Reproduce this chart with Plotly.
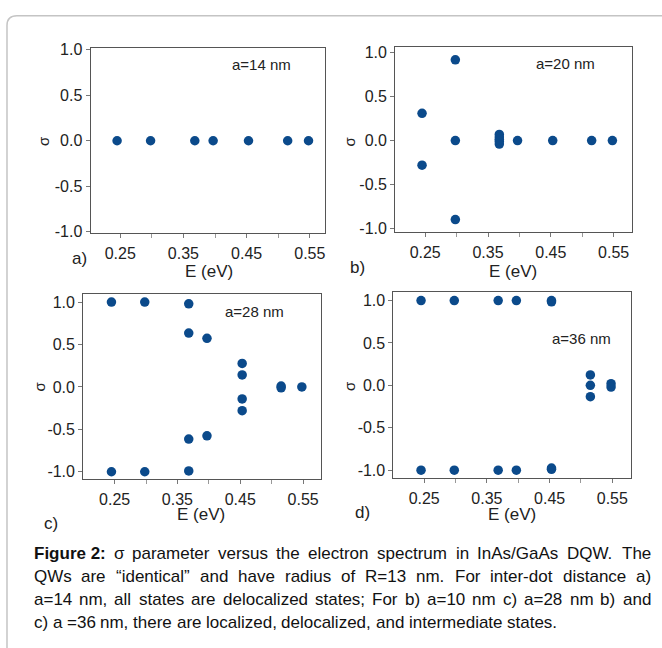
import plotly.graph_objects as go

W, H = 662, 648

# ---------------- data ----------------
E_a = [0.245, 0.298, 0.368, 0.397, 0.453, 0.515, 0.548]
s_a = [0.0, 0.0, 0.0, 0.0, 0.0, 0.0, 0.0]

E_b = [0.245, 0.245, 0.298, 0.298, 0.298, 0.368, 0.368, 0.368, 0.368, 0.368,
       0.397, 0.453, 0.515, 0.548]
s_b = [0.31, -0.28, 0.92, 0.0, -0.90, 0.07, 0.04, 0.015, -0.01, -0.04,
       0.0, 0.0, 0.0, 0.0]

E_c = [0.245, 0.245, 0.298, 0.298, 0.368, 0.368, 0.368, 0.368, 0.397, 0.397,
       0.453, 0.453, 0.453, 0.453, 0.515, 0.515, 0.548]
s_c = [1.0, -1.0, 1.0, -1.0, 0.98, 0.635, -0.615, -0.99, 0.573, -0.577,
       0.277, 0.142, -0.142, -0.28, 0.01, -0.01, 0.0]

E_d = [0.245, 0.245, 0.298, 0.298, 0.368, 0.368, 0.397, 0.397,
       0.453, 0.453, 0.453, 0.453, 0.515, 0.515, 0.515, 0.548, 0.548]
s_d = [1.0, -1.0, 1.0, -1.0, 1.0, -1.0, 1.0, -1.0,
       1.0, 0.985, -0.99, -0.975, 0.123, 0.0, -0.134, 0.02, -0.02]

panel_labels = ["a)", "b)", "c)", "d)"]
distance_labels = ["a=14 nm", "a=20 nm", "a=28 nm", "a=36 nm"]
x_tick_vals = [0.25, 0.35, 0.45, 0.55]
x_tick_text = ["0.25", "0.35", "0.45", "0.55"]
y_tick_vals = [-1.0, -0.5, 0.0, 0.5, 1.0]
y_tick_text = ["-1.0", "-0.5", "0.0", "0.5", "1.0"]
x_title = "E (eV)"
y_title = "σ"

caption_lines = [
    "Figure 2: σ parameter versus the electron spectrum in InAs/GaAs DQW. The",
    "QWs are “identical” and have radius of R=13 nm. For inter-dot distance a)",
    "a=14 nm, all states are delocalized states; For b) a=10 nm c) a=28 nm b) and",
    "c) a =36 nm, there are localized, delocalized, and intermediate states.",
]

# ---------------- layout geometry (pixels) ----------------
def px(x):
    return x / W

def py(y):
    return 1 - y / H

# box: left, right, top, bottom in pixels
boxes = [(90.7, 325.0, 42.3, 231.0),
         (395.7, 632.7, 40.7, 230.0),
         (83.3, 321.7, 293.3, 482.3),
         (394.0, 631.7, 291.7, 481.7)]
x_ranges = [[0.203, 0.5733], [0.2021, 0.5788], [0.200, 0.5788], [0.2009, 0.5794]]
y_ranges = [[-1.014, 1.015], [-1.042, 1.068], [-1.084, 1.096], [-1.096, 1.096]]

label_pos = [(80, 257), (358, 266), (51, 528), (363, 517)]
dist_pos = [(262, 59), (566, 57.5), (255, 311), (582.5, 338.5)]
xtitle_pos = [(209, 270), (514, 270), (201.5, 519), (513, 519)]
ytitle_pos = [(43, 137), (350, 137), (40, 388), (350, 387)]

COL = "#0b4a8b"
FONT = "Arial, Liberation Sans, sans-serif"

fig = go.Figure()
data = [(E_a, s_a), (E_b, s_b), (E_c, s_c), (E_d, s_d)]
for i, (ex, sy) in enumerate(data):
    sfx = "" if i == 0 else str(i + 1)
    fig.add_trace(go.Scatter(x=ex, y=sy, mode="markers",
                             marker=dict(color=COL, size=9.5),
                             xaxis="x" + sfx, yaxis="y" + sfx,
                             showlegend=False, hoverinfo="x+y"))

layout = dict(width=W, height=H, margin=dict(l=0, r=0, t=0, b=0),
              paper_bgcolor="white", plot_bgcolor="white",
              font=dict(family=FONT, color="#222"), showlegend=False)

def ann(x, y, text, size, color="#222", angle=0, xanchor="center"):
    return dict(x=px(x), y=py(y), xref="paper", yref="paper", text=text,
                showarrow=False, xanchor=xanchor, yanchor="middle", textangle=angle,
                font=dict(size=size, color=color, family=FONT))

annotations = []
for i, (l, r, t, b) in enumerate(boxes):
    sfx = "" if i == 0 else str(i + 1)
    layout["xaxis" + sfx] = dict(
        domain=[px(l), px(r)], range=x_ranges[i], anchor="y" + sfx,
        tickvals=x_tick_vals, ticktext=x_tick_text,
        ticks="outside", ticklen=4, tickcolor="#777", ticklabelstandoff=2,
        minor=dict(tickvals=[0.30, 0.40, 0.50], ticks="outside", ticklen=4, tickcolor="#999"),
        showline=True, linecolor="#555", linewidth=1, mirror=True,
        showgrid=False, zeroline=False,
        tickfont=dict(size=16, color="#222", family=FONT))
    layout["yaxis" + sfx] = dict(
        domain=[py(b), py(t)], range=y_ranges[i], anchor="x" + sfx,
        tickvals=y_tick_vals, ticktext=y_tick_text,
        ticks="outside", ticklen=4, tickcolor="#777",
        showline=True, linecolor="#555", linewidth=1, mirror=True,
        showgrid=False, zeroline=False,
        tickfont=dict(size=16, color="#222", family=FONT))
    annotations.append(ann(label_pos[i][0], label_pos[i][1], panel_labels[i], 17))
    annotations.append(ann(dist_pos[i][0], dist_pos[i][1], distance_labels[i], 15))
    annotations.append(ann(xtitle_pos[i][0], xtitle_pos[i][1], x_title, 17))
    annotations.append(ann(ytitle_pos[i][0], ytitle_pos[i][1], y_title, 15, angle=-90))

# ---------------- caption (justified by word placement) ----------------
REG = {" ": 278, "!": 278, "\"": 355, "(": 333, ")": 333, ",": 278, "-": 333, ".": 278,
       "/": 278, ":": 278, ";": 278, "=": 584, "“": 333, "”": 333, "σ": 560}
for ch in "0123456789":
    REG[ch] = 556
REG.update({"A": 667, "B": 667, "C": 722, "D": 722, "E": 667, "F": 611, "G": 778, "H": 722,
            "I": 278, "J": 500, "K": 667, "L": 556, "M": 833, "N": 722, "O": 778, "P": 667,
            "Q": 778, "R": 722, "S": 667, "T": 611, "U": 722, "V": 667, "W": 944, "X": 667,
            "Y": 667, "Z": 611, "a": 556, "b": 556, "c": 500, "d": 556, "e": 556, "f": 278,
            "g": 556, "h": 556, "i": 222, "j": 222, "k": 500, "l": 222, "m": 833, "n": 556,
            "o": 556, "p": 556, "q": 556, "r": 333, "s": 500, "t": 278, "u": 556, "v": 500,
            "w": 722, "x": 500, "y": 500, "z": 500})
BOLD = {"F": 611, "i": 278, "g": 611, "u": 611, "r": 389, "e": 556, "2": 556, ":": 333, " ": 278}

CAP_SIZE = 17
cap_left, cap_right = 31.7, 650.0
cap_y = [559, 582.5, 606, 629.5]

def word_width(w, bold=False):
    tbl = BOLD if bold else REG
    return sum(tbl.get(c, 556) for c in w) / 1000 * CAP_SIZE

for li, line in enumerate(caption_lines):
    words = line.split(" ")
    items = []
    if li == 0:
        items.append(("Figure 2:", True))
        words = words[2:]
    items += [(w, False) for w in words]
    widths = [word_width(w, b) for w, b in items]
    space_w = REG[" "] / 1000 * CAP_SIZE
    if li < len(caption_lines) - 1:
        gap = (cap_right - cap_left - sum(widths)) / (len(items) - 1)
        gap = max(gap, space_w)
    else:
        gap = space_w
    x = cap_left
    for (w, b), ww in zip(items, widths):
        annotations.append(ann(x, cap_y[li], ("<b>%s</b>" % w) if b else w,
                               CAP_SIZE, color="#111", xanchor="left"))
        x += ww + gap

layout["annotations"] = annotations

# outer rounded frame (only top-left part visible)
fx, fy, rr = 7.0, 9.0, 10.0
path = ("M %f,%f L %f,%f Q %f,%f %f,%f L %f,%f" %
        (px(fx), py(H + 20), px(fx), py(fy + rr), px(fx), py(fy), px(fx + rr), py(fy), px(W + 20), py(fy)))
layout["shapes"] = [dict(type="path", path=path, xref="paper", yref="paper",
                         line=dict(color="#c4c4c4", width=1.5))]

fig.update_layout(**layout)
fig.write_html("out.html")
